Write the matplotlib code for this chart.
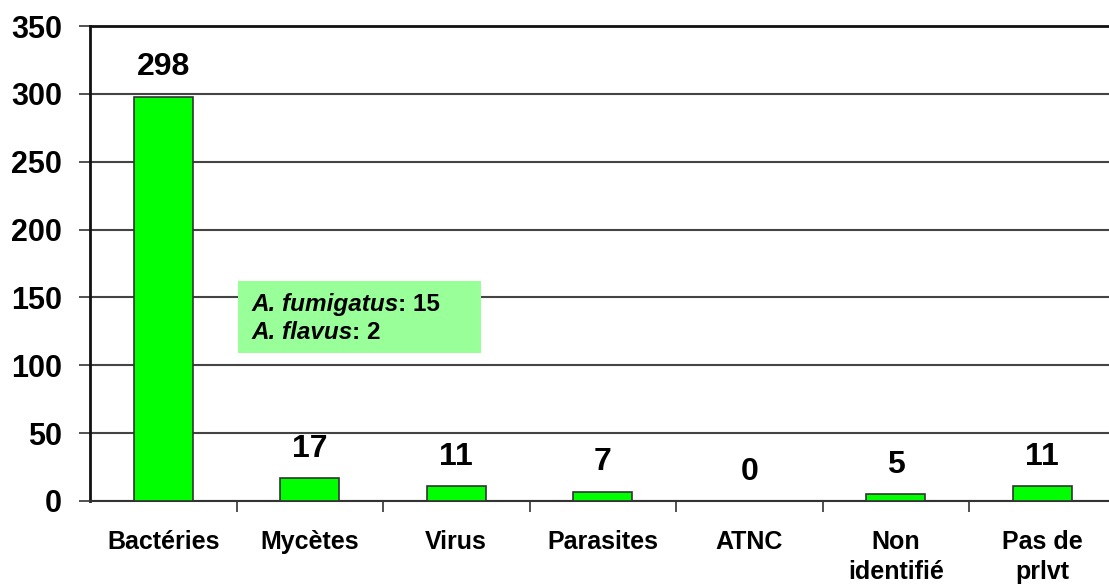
import matplotlib.pyplot as plt
from matplotlib.patches import Rectangle

categories = ['Bactéries', 'Mycètes', 'Virus', 'Parasites', 'ATNC', 'Non\nidentifié', 'Pas de\nprlvt']
values = [298, 17, 11, 7, 0, 5, 11]
species = ['A. fumigatus', 'A. flavus']
species_counts = [15, 2]

plt.rcParams['font.family'] = ['Liberation Sans', 'DejaVu Sans']
plt.rcParams['font.weight'] = 'bold'

fig = plt.figure(figsize=(11.09, 5.87), dpi=100, facecolor='white')
ax = fig.add_axes([90 / 1109, 86 / 587, 1025.5 / 1109, 475 / 587])

x = range(len(categories))
ax.bar(x, values, width=0.4, color='#00ff00', edgecolor='#333333', linewidth=1.2, zorder=3)

for xi, v in zip(x, values):
    ax.annotate(str(v), (xi, v), xytext=(0, 21), textcoords='offset points',
                ha='center', va='center', fontsize=23, fontweight='bold')

ax.set_xlim(-0.5, len(categories) - 0.5)
ax.set_ylim(0, 350)
ax.set_yticks(range(0, 351, 50))
ax.tick_params(axis='y', labelsize=22, length=8, width=1.2, pad=12, color='#333333')
ax.set_xticks([i + 0.5 for i in range(len(categories) - 1)])
ax.set_xticklabels([])
ax.set_xticks(list(x), minor=True)
ax.set_xticklabels(categories, minor=True, fontsize=18, fontweight='bold', linespacing=1.3)
ax.tick_params(axis='x', which='minor', length=0, pad=21)
ax.tick_params(axis='x', which='major', length=8, width=1.2, color='#333333')
for lab in ax.get_yticklabels():
    lab.set_fontweight('bold')

ax.grid(axis='y', color='#444444', linewidth=1.5, zorder=0)
ax.spines['right'].set_visible(False)
ax.spines['top'].set_linewidth(2)
ax.spines['top'].set_color('#111111')
ax.spines['left'].set_linewidth(2)
ax.spines['left'].set_color('#111111')
ax.spines['bottom'].set_linewidth(1.5)
ax.spines['bottom'].set_color('#333333')

# annotation box for fungi breakdown
ax.add_patch(Rectangle((0.51, 109), 1.66, 53, facecolor='#99ff99', edgecolor='none', zorder=4))
ypos = [145, 124]
for name, n, yy in zip(species, species_counts, ypos):
    t = ax.text(0.6, yy, name, fontsize=17.5, fontweight='bold', style='italic',
                va='center', ha='left', zorder=5)
    ax.annotate(': %d' % n, xy=(1, 0.5), xycoords=t, va='center', ha='left',
                fontsize=17.5, fontweight='bold', zorder=5)

fig.savefig('out.png', dpi=100)
